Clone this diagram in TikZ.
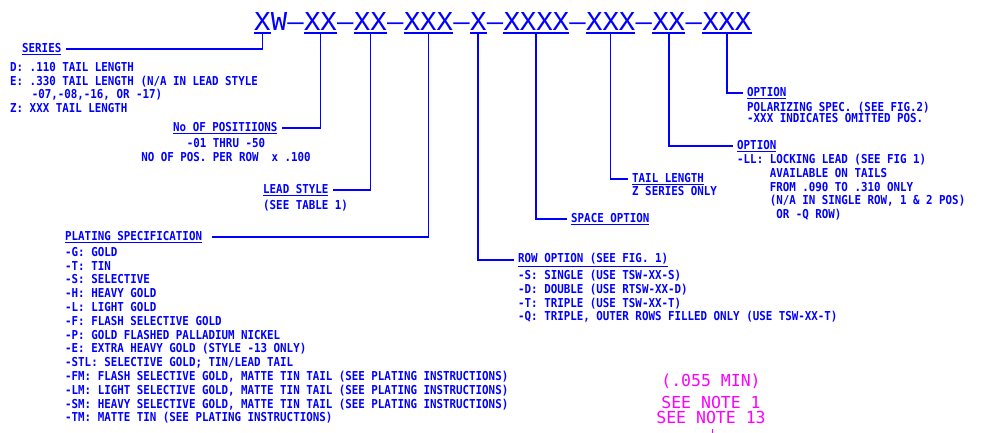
\documentclass[tikz,border=0pt]{standalone}
\usepackage{fontspec}
\usepackage{tikz}
\usetikzlibrary{positioning}
\definecolor{cadblue}{RGB}{0,0,255}
\definecolor{cadmag}{RGB}{255,0,255}
\newfontfamily\hdrfont[FakeStretch=1.1]{DejaVu Sans Mono}
\newfontfamily\cadfont[FakeStretch=0.88]{DejaVu Sans Mono}
\newfontfamily\notefont{DejaVu Sans Mono}

\begin{document}
\begin{tikzpicture}[x=1pt,y=-1pt,
  seg/.style={font=\fontsize{24.7}{26}\hdrfont, text=cadblue,
    inner xsep=0pt, inner ysep=2pt, anchor=base west},
  head/.style={font=\fontsize{12.3}{13.8}\cadfont\bfseries, text=cadblue,
    inner xsep=4pt, inner ysep=1pt, anchor=west},
  body/.style={font=\fontsize{12.3}{13.8}\cadfont\bfseries, text=cadblue,
    inner xsep=4pt, inner ysep=1pt, align=left, anchor=north west},
  conn/.style={draw=cadblue, line width=1.6pt},
  note/.style={font=\fontsize{16.5}{18}\notefont, text=cadmag, inner sep=0pt}]

  \useasboundingbox (0,0) rectangle (993,433);

  %,  Part number, 
  \node[seg] (s1) at (254,31) {X};
  \node[seg] (h1) at (s1.base east) {W–};
  \node[seg] (s2) at (h1.base east) {XX};
  \node[seg] (h2) at (s2.base east) {–};
  \node[seg] (s3) at (h2.base east) {XX};
  \node[seg] (h3) at (s3.base east) {–};
  \node[seg] (s4) at (h3.base east) {XXX};
  \node[seg] (h4) at (s4.base east) {–};
  \node[seg] (s5) at (h4.base east) {X};
  \node[seg] (h5) at (s5.base east) {–};
  \node[seg] (s6) at (h5.base east) {XXXX};
  \node[seg] (h6) at (s6.base east) {–};
  \node[seg] (s7) at (h6.base east) {XXX};
  \node[seg] (h7) at (s7.base east) {–};
  \node[seg] (s8) at (h7.base east) {XX};
  \node[seg] (h8) at (s8.base east) {–};
  \node[seg] (s9) at (h8.base east) {XXX};
  \foreach \s in {s1,s2,s3,s4,s5,s6,s7,s8,s9}
    \draw[conn] (\s.south west) -- (\s.south east);

  %,  Left side, 
  \node[head] (series) at (18,49) {\underline{SERIES}};
  \node[body] (seriesb) at (6,61)
    {D: .110 TAIL LENGTH\\
     E: .330 TAIL LENGTH (N/A IN LEAD STYLE\\
     \phantom{E: }\,-07,-08,-16, OR -17)\\
     Z: XXX TAIL LENGTH};

  \node[head] (positions) at (169,128) {\underline{No OF POSITIIONS}};
  \node[body, align=center, anchor=north] (positionsb) at (226,137)
    {-01 THRU -50\\NO OF POS. PER ROW~~x .100};

  \node[head] (lead) at (259,190) {\underline{LEAD STYLE}};
  \node[body] (leadb) at (259,199) {(SEE TABLE 1)};

  \node[head] (plating) at (61,237) {\underline{PLATING SPECIFICATION}};
  \coordinate (platjoin) at (212,237);
  \node[body] (platingb) at (61,246)
    {-G: GOLD\\
     -T: TIN\\
     -S: SELECTIVE\\
     -H: HEAVY GOLD\\
     -L: LIGHT GOLD\\
     -F: FLASH SELECTIVE GOLD\\
     -P: GOLD FLASHED PALLADIUM NICKEL\\
     -E: EXTRA HEAVY GOLD (STYLE -13 ONLY)\\
     -STL: SELECTIVE GOLD; TIN/LEAD TAIL\\
     -FM: FLASH SELECTIVE GOLD, MATTE TIN TAIL (SEE PLATING INSTRUCTIONS)\\
     -LM: LIGHT SELECTIVE GOLD, MATTE TIN TAIL (SEE PLATING INSTRUCTIONS)\\
     -SM: HEAVY SELECTIVE GOLD, MATTE TIN TAIL (SEE PLATING INSTRUCTIONS)\\
     -TM: MATTE TIN (SEE PLATING INSTRUCTIONS)};

  %,  Right side, 
  \node[head] (row) at (514,260) {\underline{ROW OPTION (SEE FIG. 1)}};
  \node[body] (rowb) at (514,269)
    {-S: SINGLE (USE TSW-XX-S)\\
     -D: DOUBLE (USE RTSW-XX-D)\\
     -T: TRIPLE (USE TSW-XX-T)\\
     -Q: TRIPLE, OUTER ROWS FILLED ONLY (USE TSW-XX-T)};

  \node[head] (space) at (567,219) {\underline{SPACE OPTION}};

  \node[head] (tail) at (628,179) {\underline{TAIL LENGTH}};
  \node[body] (tailb) at (628,185) {Z SERIES ONLY};

  \node[head] (lock) at (733,146) {\underline{OPTION}};
  \node[body] (lockb) at (733,153)
    {-LL: LOCKING LEAD (SEE FIG 1)\\
     \phantom{-LL: }AVAILABLE ON TAILS\\
     \phantom{-LL: }FROM .090 TO .310 ONLY\\
     \phantom{-LL: }(N/A IN SINGLE ROW, 1 \& 2 POS)\\
     \phantom{-LL: } OR -Q ROW)};

  \node[head] (polar) at (743,93) {\underline{OPTION}};
  \node[body] (polarb) at (743,101)
    {POLARIZING SPEC. (SEE FIG.2)\\[-2.8pt]
     -XXX INDICATES OMITTED POS.};

  %,  Leaders, 
  \draw[conn] (s1.south) |- (series.east);
  \draw[conn] (s2.south) |- (positions.east);
  \draw[conn] (s3.south) |- (lead.east);
  \draw[conn] (s4.south) |- (platjoin);
  \draw[conn] (s5.south) |- (row.west);
  \draw[conn] (s6.south) |- (space.west);
  \draw[conn] (s7.south) |- (tail.west);
  \draw[conn] (s8.south) |- (lock.west);
  \draw[conn] (s9.south) |- (polar.west);

  %,  Notes, 
  \node[note] (min) at (711,381) {(.055 MIN)};
  \node[note] (note1) at (711,402) {SEE NOTE 1};
  \node[note] (note13) at (711,417.5) {SEE NOTE 13};
  \draw[cadmag, line width=1.2pt] (712.5,429) -- (712.5,433);

\end{tikzpicture}
\end{document}
